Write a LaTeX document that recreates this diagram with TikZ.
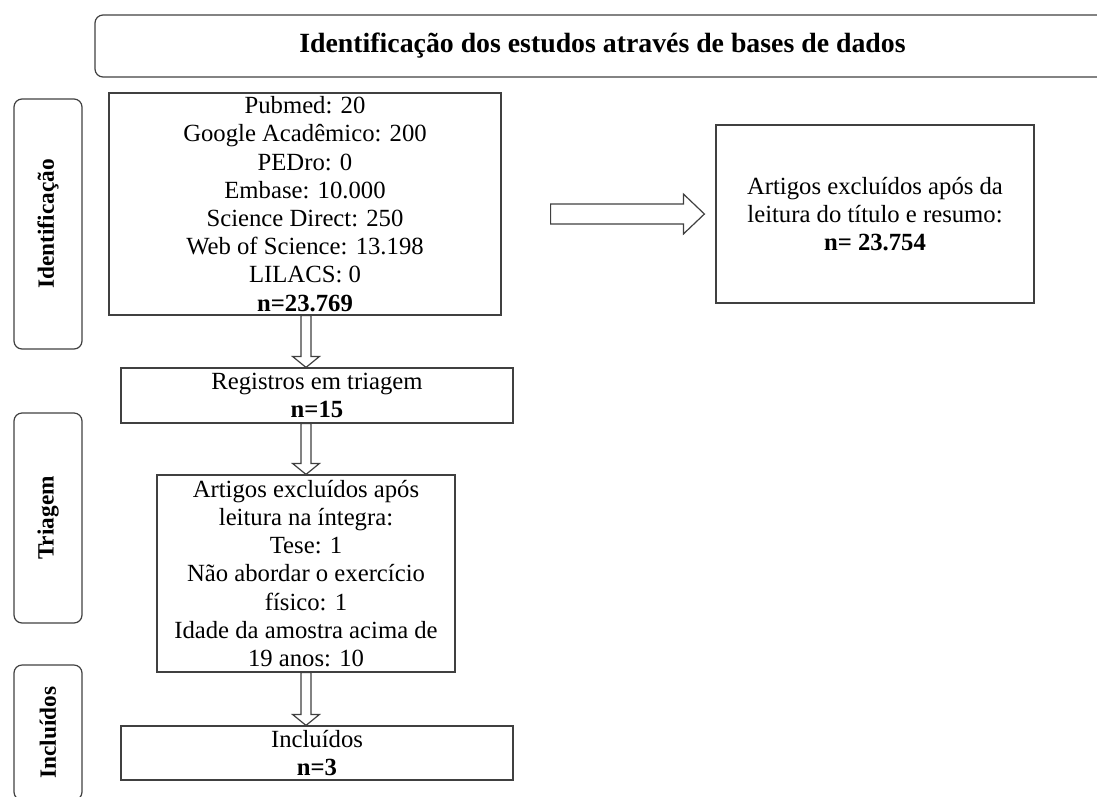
\documentclass[tikz,border=0pt]{standalone}
\usepackage{fontspec}
\setmainfont{Liberation Serif}
\usetikzlibrary{calc,positioning}

\tikzset{
  box/.style={draw=black!75, line width=1.2pt, align=center, inner sep=0pt,
    font=\fontsize{24.7}{28.2}\selectfont},
  sidebox/.style={box, rounded corners=8pt, rotate=90, minimum height=68pt,
    font=\fontsize{23.3}{28}\selectfont\bfseries},
  blockline/.style={draw=black!75, fill=white, line width=1.2pt, line join=miter},
}
% hollow block arrow: start, tip, shaft half width, head half width, head length
\newcommand{\blockarrow}[5]{%
  \path ($(#2)!#5!(#1)$) coordinate (hb);
  \draw[blockline] ($(#1)!#3!90:(#2)$) -- ($(hb)!#3!90:(#2)$) -- ($(hb)!#4!90:(#2)$) -- (#2)
    -- ($(hb)!#4!-90:(#2)$) -- ($(hb)!#3!-90:(#2)$) -- ($(#1)!#3!-90:(#2)$) -- cycle;
}

\begin{document}
\begin{tikzpicture}[x=1pt,y=-1pt]
  \useasboundingbox (0,0) rectangle (1097,796);
  % header
  \node[box, rounded corners=8pt, minimum width=1015pt, minimum height=62pt,
    font=\fontsize{27.8}{30}\selectfont\bfseries] (head) at (602.5,46)
    {Identificação dos estudos através de bases de dados};
  % side labels
  \node[sidebox, minimum width=250pt] (sid) at (48,224) {Identificação};
  \node[sidebox, minimum width=210pt] (stri) at (48,518) {Triagem};
  \node[sidebox, minimum width=135pt] (sinc) at (48,732.5) {Incluídos};
  % boxes
  \node[box, minimum width=392pt, minimum height=222pt] (bases) at (305,204)
    {Pubmed: 20\\Google Acadêmico: 200\\PEDro: 0\\Embase: 10.000\\Science Direct: 250\\
     Web of Science: 13.198\\LILACS: 0\\\textbf{n=23.769}};
  \node[box, minimum width=318pt, minimum height=178pt] (excl) at (875,214)
    {Artigos excluídos após da\\leitura do título e resumo:\\\textbf{n= 23.754}};
  \node[box, minimum width=392pt, minimum height=55pt] (triag) at (317,395.5)
    {Registros em triagem\\\textbf{n=15}};
  \node[box, minimum width=298pt, minimum height=197pt] (integ) at (306,573.5)
    {Artigos excluídos após\\leitura na íntegra:\\Tese: 1\\Não abordar o exercício\\
     físico: 1\\Idade da amostra acima de\\19 anos: 10};
  \node[box, minimum width=392pt, minimum height=54pt] (incl) at (317,753)
    {Incluídos\\\textbf{n=3}};
  % arrows
  \coordinate (d1) at (bases.south -| integ.north);
  \coordinate (d1e) at (triag.north -| integ.north);
  \coordinate (d2) at (triag.south -| integ.north);
  \coordinate (d3e) at (incl.north -| integ.south);
  \coordinate (r1) at ($(bases.east |- excl.west)+(49,0)$);
  \coordinate (r1e) at ($(excl.west)+(-11,0)$);
  \blockarrow{d1}{d1e}{5pt}{13.5pt}{11pt}
  \blockarrow{d2}{integ.north}{5pt}{13.5pt}{11pt}
  \blockarrow{integ.south}{d3e}{5pt}{13.5pt}{11pt}
  \blockarrow{r1}{r1e}{10pt}{20pt}{21pt}
\end{tikzpicture}
\end{document}
